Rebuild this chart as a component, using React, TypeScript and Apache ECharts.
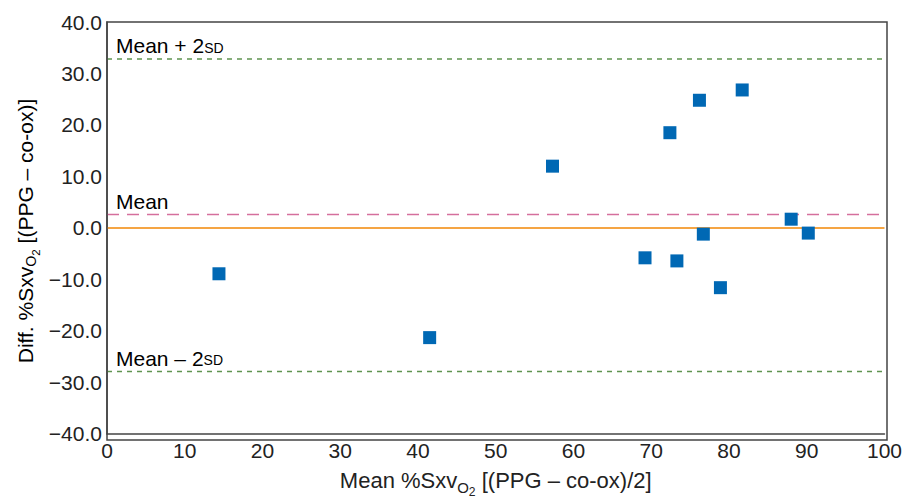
import React, { useEffect, useRef } from "react";
import * as echarts from "echarts";

const meanValues = [14.4, 41.5, 57.3, 69.2, 72.4, 73.3, 76.2, 76.7, 78.9, 81.7, 88.0, 90.2];
const diffValues = [-8.9, -21.3, 12.0, -5.8, 18.5, -6.4, 24.8, -1.2, -11.6, 26.8, 1.7, -1.0];
const upperLimit = 32.8;
const meanDiff = 2.6;
const lowerLimit = -27.9;
const xTicks = [0, 10, 20, 30, 40, 50, 60, 70, 80, 90, 100];
const yTicks = [-40, -30, -20, -10, 0, 10, 20, 30, 40];

const FONT = "Liberation Sans";
const TXT = "#222";

export default function App() {
  const ref = useRef<HTMLDivElement>(null);
  useEffect(() => {
    if (!ref.current) return;
    const chart = echarts.init(ref.current, null, { renderer: "svg" });
    const points = meanValues.map((m, i) => [m, diffValues[i]]);
    const labelRich = {
      a: { fontFamily: FONT, fontSize: 21, color: TXT },
      s: { fontFamily: FONT, fontSize: 14, color: TXT, padding: [4, 0, 0, 0] },
    };
    const mkNameRich = (fs: number) => ({
      a: { fontFamily: FONT, fontSize: fs, color: TXT },
      sub: { fontFamily: FONT, fontSize: fs * 0.68, color: TXT, padding: [fs * 0.6, 0, 0, 0] },
      sub2: { fontFamily: FONT, fontSize: fs * 0.55, color: TXT, padding: [fs * 1.05, 0, 0, 0] },
    });
    chart.setOption({
      animation: false,
      grid: { left: 107, right: 18, top: 22, bottom: 63 },
      xAxis: {
        type: "value",
        min: 0,
        max: 100,
        interval: 10,
        name: "{a|Mean %Sxv}{sub|O}{sub2|2}{a| [(PPG – co-ox)/2]}",
        nameLocation: "middle",
        nameGap: 29,
        nameTextStyle: { rich: mkNameRich(22) },
        axisLine: { show: true, onZero: false, lineStyle: { color: "#444", width: 1.5 } },
        axisTick: { show: false },
        splitLine: { show: false },
        axisLabel: {
          fontFamily: FONT,
          fontSize: 21,
          color: TXT,
          margin: 6,
          formatter: (v: number) => (xTicks.includes(v) ? String(v) : ""),
        },
      },
      yAxis: {
        type: "value",
        min: -40,
        max: 40,
        interval: 10,
        axisLine: { show: true, onZero: false, lineStyle: { color: "#444", width: 1.5 } },
        axisTick: { show: false },
        splitLine: { show: false },
        axisLabel: {
          fontFamily: FONT,
          fontSize: 21,
          color: TXT,
          margin: 5,
          formatter: (v: number) =>
            yTicks.includes(v) ? (v < 0 ? "\u2212" + Math.abs(v).toFixed(1) : v.toFixed(1)) : "",
        },
      },
      series: [
        {
          type: "line",
          data: [[0, 0], [100, 0]],
          symbol: "none",
          lineStyle: { color: "#f5a544", width: 2 },
          z: 1,
        },
        {
          type: "line",
          data: [[0, upperLimit], [100, upperLimit]],
          symbol: "none",
          lineStyle: { color: "#5f9450", width: 1.5, type: [5, 5] },
          z: 1,
        },
        {
          type: "line",
          data: [[0, lowerLimit], [100, lowerLimit]],
          symbol: "none",
          lineStyle: { color: "#5f9450", width: 1.5, type: [5, 5] },
          z: 1,
        },
        {
          type: "line",
          data: [[0, meanDiff], [100, meanDiff]],
          symbol: "none",
          lineStyle: { color: "#d56f9d", width: 1.5, type: [12, 8] },
          z: 1,
        },
        {
          type: "scatter",
          data: points,
          symbol: "rect",
          symbolSize: 13,
          itemStyle: { color: "#0068b4", opacity: 1 },
          z: 3,
        },
      ],
    });
    const lbl = (y: number, text: string) => {
      const p = chart.convertToPixel({ xAxisIndex: 0, yAxisIndex: 0 }, [0, y]);
      return {
        type: "text",
        x: 116,
        y: p[1] - 3,
        style: { text, rich: labelRich, verticalAlign: "bottom", align: "left" },
        silent: true,
      };
    };
    chart.setOption({
      graphic: [
        {
          type: "rect",
          shape: { x: 107, y: 22, width: 780, height: 418 },
          style: { fill: "none", stroke: "#444", lineWidth: 1.5 },
          silent: true,
          z: 10,
        },
        lbl(upperLimit, "{a|Mean + 2}{s|SD}"),
        lbl(meanDiff, "{a|Mean}"),
        lbl(lowerLimit, "{a|Mean – 2}{s|SD}"),
        {
          type: "text",
          x: 25,
          y: 231,
          rotation: Math.PI / 2,
          style: {
            text: "{a|Diff. %Sxv}{sub|O}{sub2|2}{a| [(PPG – co-ox)]}",
            rich: mkNameRich(21),
            align: "center",
            verticalAlign: "middle",
          },
          silent: true,
        },
      ],
    });
    return () => chart.dispose();
  }, []);
  return <div ref={ref} style={{ position: "absolute", left: 0, top: 0, width: 905, height: 503 }} />;
}
